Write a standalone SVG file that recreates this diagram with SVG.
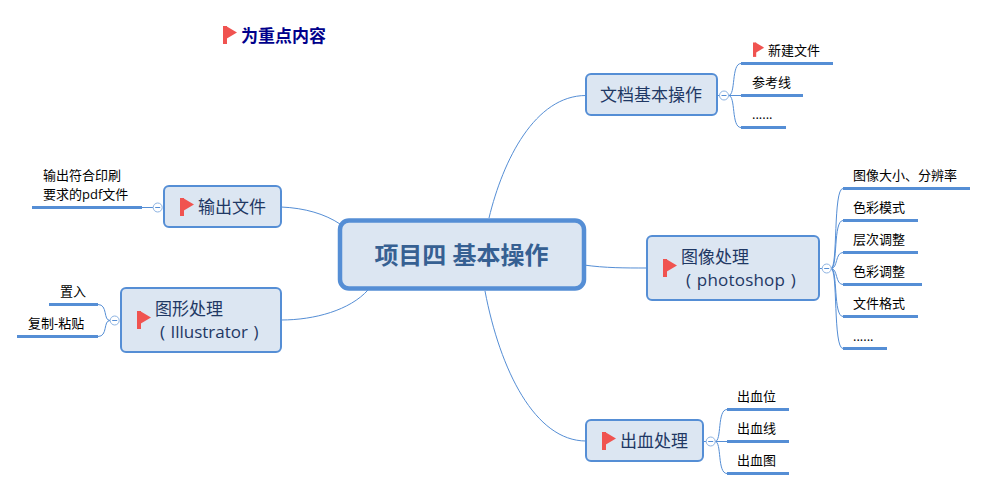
<svg xmlns="http://www.w3.org/2000/svg" width="987" height="490" viewBox="0 0 987 490">
<style>
text{font-family:"Open Sans","Noto Sans CJK SC","Microsoft YaHei",sans-serif}
.box{fill:#dce6f2;stroke:#558ed5;stroke-width:2}
.t{font-size:17px;fill:#1f3864}
.l{font-size:13px;fill:#000}
.bar{stroke:#558ed5;stroke-width:3;fill:none}
.c{stroke:#558ed5;stroke-width:1;fill:none}
.tg{fill:#fff;stroke:#8db3e2;stroke-width:1}
.tm{stroke:#558ed5;stroke-width:1}
</style>
<defs>
<g id="flag"><rect x="0" y="0" width="4" height="18" fill="#f05350"/><path d="M3 0L14 6.500L3 13Z" fill="#f05350"/></g>
<g id="toggle"><circle r="4.500" class="tg"/><line x1="-2.500" x2="2.500" class="tm"/></g>
</defs>
<rect width="987" height="490" fill="#fff"/>
<g id="connectors">
<path class="c" d="M489 218C503 160 535 95.500 586 95.500"/>
<path class="c" d="M584 265C605 268 625 268 647 268"/>
<path class="c" d="M485 291C500 370 535 441 586 441"/>
<path class="c" d="M281 207C305 208 325 214 340 224"/>
<path class="c" d="M281 320C315 320 350 310 368 290"/>
<path class="c" d="M717 95.500H720M728.500 95.500H741M728.500 95.500C736 95.500 731 63.500 741 63.500M728.500 95.500C736 95.500 731 127.500 741 127.500"/>
<path class="c" d="M142 207.500H153"/>
<path class="c" d="M110 320.500C103 320.500 108 304.500 98 304.500M110 320.500C103 320.500 108 336.500 98 336.500"/>
<path class="c" d="M819 268.500H822"/>
<path class="c" d="M831 268.500C838 268.500 833 188.500 843 188.500M831 268.500C838 268.500 833 220.500 843 220.500M831 268.500C838 268.500 835 252.500 843 252.500M831 268.500C838 268.500 835 284.500 843 284.500M831 268.500C838 268.500 833 316.500 843 316.500M831 268.500C838 268.500 833 348.500 843 348.500"/>
<path class="c" d="M703 441.500H706M715 441.500H727M715 441.500C722 441.500 717 409.500 727 409.500M715 441.500C722 441.500 717 473.500 727 473.500"/>
</g>
<g id="legend"><use href="#flag" x="223" y="26"/><text x="241" y="41.500" font-size="17" font-weight="700" fill="#00008b">为重点内容</text></g>
<g id="center"><rect x="340" y="220.500" width="244" height="68" rx="9" fill="#dce6f2" stroke="#558ed5" stroke-width="4.500"/><text x="461.500" y="264" text-anchor="middle" font-size="24" font-weight="700" fill="#366092">项目四 基本操作</text></g>
<g id="n-doc"><rect class="box" x="586" y="74" width="131" height="41" rx="5"/><text class="t" x="600" y="101">文档基本操作</text><use href="#toggle" x="724" y="95.500"/></g>
<g id="n-new"><use href="#flag" transform="translate(753 42.500) scale(.8)"/><text class="l" x="768" y="54.500">新建文件</text><line class="bar" x1="741" y1="63.500" x2="833" y2="63.500"/></g>
<g id="n-guide"><text class="l" x="752" y="86.500">参考线</text><line class="bar" x1="741" y1="95.500" x2="803" y2="95.500"/></g>
<g id="n-more1"><text class="l" x="752" y="119">......</text><line class="bar" x1="741" y1="127.500" x2="786" y2="127.500"/></g>
<g id="n-output"><rect class="box" x="164" y="186" width="117" height="41" rx="5"/><use href="#flag" x="180" y="198"/><text class="t" x="198" y="213">输出文件</text><use href="#toggle" x="157.700" y="207.500"/></g>
<g id="n-pdf"><text class="l" x="43" y="180">输出符合印刷</text><text class="l" x="43" y="198.500">要求的pdf文件</text><line class="bar" x1="32" y1="207.500" x2="142" y2="207.500"/></g>
<g id="n-ai"><rect class="box" x="121" y="288" width="160" height="64" rx="5"/><use href="#flag" x="137" y="311"/><text class="t" x="155" y="315">图形处理</text><text class="t" x="160" y="338" word-spacing="1">( Illustrator )</text><use href="#toggle" x="114.700" y="320.500"/></g>
<g id="n-place"><text class="l" x="60" y="296">置入</text><line class="bar" x1="49" y1="304.500" x2="98" y2="304.500"/></g>
<g id="n-copy"><text class="l" x="28" y="327.500">复制-粘贴</text><line class="bar" x1="17" y1="336.500" x2="98" y2="336.500"/></g>
<g id="n-ps"><rect class="box" x="647" y="236" width="172" height="64" rx="5"/><use href="#flag" x="663" y="259"/><text class="t" x="681" y="263">图像处理</text><text class="t" x="686" y="286" word-spacing="1" letter-spacing=".2">( photoshop )</text><use href="#toggle" x="826.700" y="268.500"/></g>
<g id="n-size"><text class="l" x="853" y="179.500">图像大小、分辨率</text><line class="bar" x1="843" y1="188.500" x2="970" y2="188.500"/></g>
<g id="n-mode"><text class="l" x="853" y="211.500">色彩模式</text><line class="bar" x1="843" y1="220.500" x2="918" y2="220.500"/></g>
<g id="n-level"><text class="l" x="853" y="243.500">层次调整</text><line class="bar" x1="843" y1="252.500" x2="918" y2="252.500"/></g>
<g id="n-color"><text class="l" x="853" y="275.500">色彩调整</text><line class="bar" x1="843" y1="284.500" x2="922" y2="284.500"/></g>
<g id="n-format"><text class="l" x="853" y="307.500">文件格式</text><line class="bar" x1="843" y1="316.500" x2="918" y2="316.500"/></g>
<g id="n-more2"><text class="l" x="853" y="341">......</text><line class="bar" x1="843" y1="348.500" x2="887" y2="348.500"/></g>
<g id="n-bleed"><rect class="box" x="586" y="420" width="117" height="41" rx="5"/><use href="#flag" x="602" y="432"/><text class="t" x="620" y="447">出血处理</text><use href="#toggle" x="710.700" y="441.500"/></g>
<g id="n-b1"><text class="l" x="737" y="400.500">出血位</text><line class="bar" x1="727" y1="409.500" x2="789" y2="409.500"/></g>
<g id="n-b2"><text class="l" x="737" y="432.500">出血线</text><line class="bar" x1="727" y1="441.500" x2="789" y2="441.500"/></g>
<g id="n-b3"><text class="l" x="737" y="464.500">出血图</text><line class="bar" x1="727" y1="473.500" x2="789" y2="473.500"/></g>
</svg>
